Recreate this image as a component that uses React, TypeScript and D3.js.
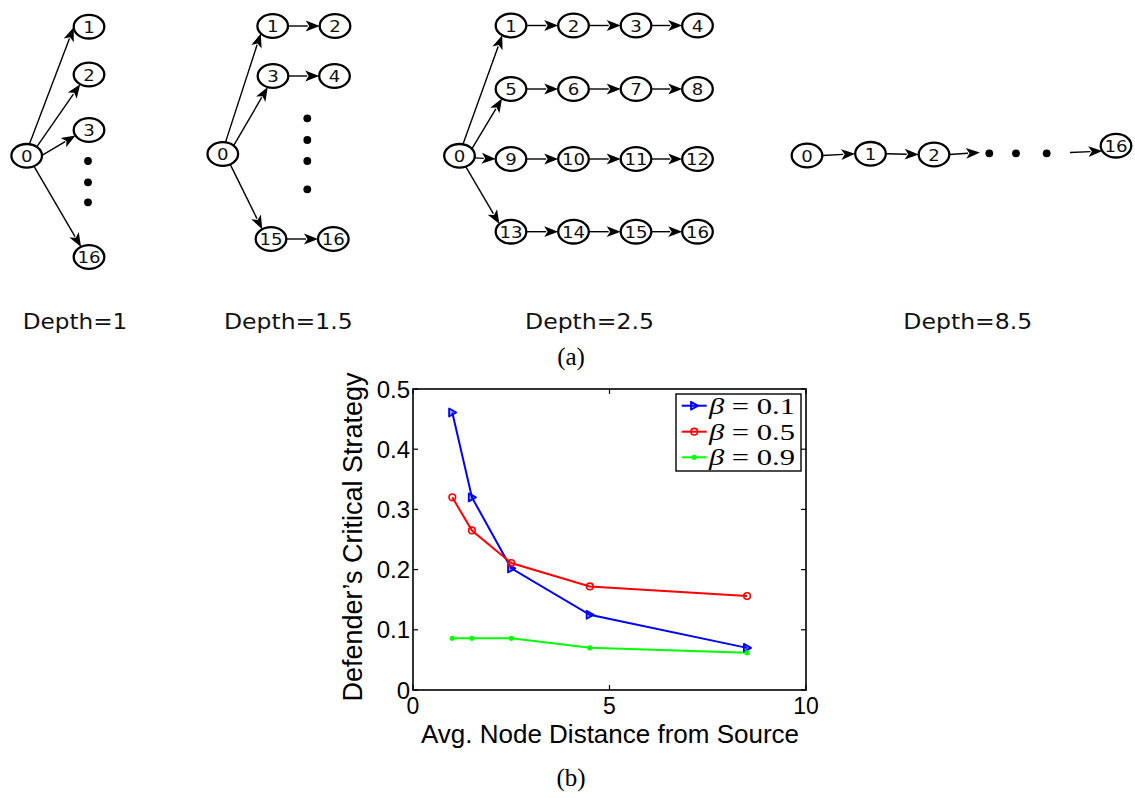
import React from 'react';
import * as d3 from 'd3';

// ---------------- Chart (b) data ----------------
const xValues = [1, 1.5, 2.5, 4.5, 8.5];
const beta01 = [0.461, 0.32, 0.202, 0.125, 0.07];
const beta05 = [0.32, 0.265, 0.211, 0.172, 0.156];
const beta09 = [0.086, 0.086, 0.086, 0.07, 0.062];
const seriesNames = ['0.1', '0.5', '0.9'];
const seriesColors = ['#0000ff', '#ff0000', '#00ff00'];
const seriesMarkers = ['triangle', 'circle', 'dot'];
const xTicks = [0, 5, 10];
const yTicks = [0, 0.1, 0.2, 0.3, 0.4, 0.5];
const xLabel = 'Avg. Node Distance from Source';
const yLabel = 'Defender\u2019s Critical Strategy';

// ---------------- Diagram (a) data ----------------
type DNode = { id: string; x: number; y: number };
type DEdge = { from?: string; fa?: number; fromPt?: [number, number]; to?: string; ta?: number; toPt?: [number, number] };

const graph1Nodes: DNode[] = [
  { id: '0', x: 26.7, y: 155.8 },
  { id: '1', x: 89, y: 26.7 },
  { id: '2', x: 89, y: 74.5 },
  { id: '3', x: 89, y: 130 },
  { id: '16', x: 89, y: 257 },
];
const graph1Dots: [number, number][] = [[88, 161], [88, 182.3], [88, 202.3]];
const graph1Edges: DEdge[] = [
  { from: '0', fa: 80, to: '1', ta: 183 },
  { from: '0', fa: 49, to: '2', ta: 235 },
  { from: '0', fa: 2, to: '3', ta: 208 },
  { from: '0', fa: 298, to: '16', ta: 121 },
];

const graph2Nodes: DNode[] = [
  { id: '0', x: 222.8, y: 154 },
  { id: '1', x: 272.7, y: 26 },
  { id: '2', x: 335, y: 26 },
  { id: '3', x: 273, y: 76 },
  { id: '4', x: 334.5, y: 76 },
  { id: '15', x: 271, y: 239 },
  { id: '16', x: 333.3, y: 239 },
];
const graph2Dots: [number, number][] = [[307.3, 118.3], [307.3, 140], [307.3, 161], [307.3, 189.3]];
const graph2Edges: DEdge[] = [
  { from: '0', fa: 80, to: '1', ta: 219 },
  { from: '0', fa: 45, to: '3', ta: 250 },
  { from: '0', fa: 299, to: '15', ta: 125 },
  { from: '1', fa: 0, to: '2', ta: 180 },
  { from: '3', fa: 0, to: '4', ta: 180 },
  { from: '15', fa: 0, to: '16', ta: 180 },
];

const g3Cols = [511, 573.5, 636, 697.5];
const g3Rows = [25.5, 89, 159, 231.7];
const graph3Nodes: DNode[] = [
  { id: '0', x: 459.5, y: 155.8 },
  ...g3Rows.flatMap((ry, r) => g3Cols.map((cx, c) => ({ id: String(r * 4 + c + 1), x: cx, y: ry }))),
];
const graph3Edges: DEdge[] = [
  { from: '0', fa: 77, to: '1', ta: 235 },
  { from: '0', fa: 36, to: '5', ta: 234 },
  { from: '0', fa: 350, to: '9', ta: 180 },
  { from: '0', fa: 294, to: '13', ta: 139 },
  ...[0, 1, 2, 3].flatMap((r) =>
    [1, 2, 3].map((c) => ({ from: String(r * 4 + c), fa: 0, to: String(r * 4 + c + 1), ta: 180 }))
  ),
];

const graph4Nodes: DNode[] = [
  { id: '0', x: 807, y: 155.5 },
  { id: '1', x: 870.5, y: 153.8 },
  { id: '2', x: 934, y: 154.5 },
  { id: '16', x: 1116, y: 145.7 },
];
const graph4Dots: [number, number][] = [[989.3, 153.3], [1016, 153.3], [1046.7, 153.3]];
const graph4Edges: DEdge[] = [
  { from: '0', fa: 0, to: '1', ta: 180 },
  { from: '1', fa: 0, to: '2', ta: 180 },
  { from: '2', fa: 0, toPt: [980, 152.5] },
  { fromPt: [1070, 152.5], to: '16', ta: 207 },
];

const depthLabels = ['Depth=1', 'Depth=1.5', 'Depth=2.5', 'Depth=8.5'];
const depthLabelX = [22.7, 224, 525, 903.3];
const depthLabelW = [104.6, 128.7, 129, 129];

const RX = 15.3;
const RY = 11.8;

function portPoint(n: DNode, deg: number): [number, number] {
  const a = (deg * Math.PI) / 180;
  return [n.x + RX * Math.cos(a), n.y - RY * Math.sin(a)];
}

function Graph({ nodes, edges, dots }: { nodes: DNode[]; edges: DEdge[]; dots: [number, number][] }) {
  const byId = new Map(nodes.map((n) => [n.id, n]));
  const AL = 14;
  const AW = 5.4;
  return (
    <g>
      {edges.map((e, i) => {
        const p0 = e.fromPt ? e.fromPt : portPoint(byId.get(e.from!)!, e.fa!);
        const p1 = e.toPt ? e.toPt : portPoint(byId.get(e.to!)!, e.ta!);
        const dx = p1[0] - p0[0];
        const dy = p1[1] - p0[1];
        const len = Math.hypot(dx, dy);
        const ux = dx / len;
        const uy = dy / len;
        const bx = p1[0] - ux * AL;
        const by = p1[1] - uy * AL;
        const px = -uy;
        const py = ux;
        return (
          <g key={i}>
            <line x1={p0[0]} y1={p0[1]} x2={bx + ux * 2} y2={by + uy * 2} stroke="#000" strokeWidth={1.4} />
            <polygon
              points={`${p1[0]},${p1[1]} ${bx + px * AW},${by + py * AW} ${bx + ux * 3.5},${by + uy * 3.5} ${bx - px * AW},${by - py * AW}`}
              fill="#000"
            />
          </g>
        );
      })}
      {nodes.map((n) => (
        <g key={n.id}>
          <ellipse cx={n.x} cy={n.y} rx={RX} ry={RY} fill="#fff" stroke="#000" strokeWidth={2.3} />
          <text
            transform={`translate(${n.x},${n.y + 6}) scale(1.1,1)`}
            textAnchor="middle"
            fontFamily="DejaVu Sans, Verdana, sans-serif"
            fontSize={16.5}
            fill="#111"
          >
            {n.id}
          </text>
        </g>
      ))}
      {dots.map((d, i) => (
        <circle key={i} cx={d[0]} cy={d[1]} r={3.9} fill="#000" />
      ))}
    </g>
  );
}

function Marker({ type, x, y, color }: { type: string; x: number; y: number; color: string }) {
  if (type === 'triangle') {
    const s = 4;
    return (
      <polygon
        points={`${x + s},${y} ${x - s * 0.8},${y - s} ${x - s * 0.8},${y + s}`}
        fill={color}
        fillOpacity={0.35}
        stroke={color}
        strokeWidth={1.8}
        strokeLinejoin="round"
      />
    );
  }
  if (type === 'circle') {
    return <circle cx={x} cy={y} r={3.3} fill="none" stroke={color} strokeWidth={1.6} />;
  }
  return <circle cx={x} cy={y} r={2.6} fill={color} />;
}

export default function App() {
  const x = d3.scaleLinear().domain([0, 10]).range([413, 806]);
  const y = d3.scaleLinear().domain([0, 0.5]).range([690, 389]);
  const series = [beta01, beta05, beta09];
  const line = d3
    .line<number>()
    .x((_, i) => x(xValues[i]))
    .y((d) => y(d));

  const [x0, x1] = x.range();
  const [y0, y1] = y.range();
  const tickLen = 5;
  const legendRows = [405.7, 431.7, 457.3];

  return (
    <svg
      width={1135}
      height={798}
      style={{ position: 'absolute', left: 0, top: 0, background: '#fff' }}
      xmlns="http://www.w3.org/2000/svg"
    >
      <rect x={0} y={0} width={1135} height={798} fill="#fff" />
      {/* Panel (a) */}
      <Graph nodes={graph1Nodes} edges={graph1Edges} dots={graph1Dots} />
      <Graph nodes={graph2Nodes} edges={graph2Edges} dots={graph2Dots} />
      <Graph nodes={graph3Nodes} edges={graph3Edges} dots={[]} />
      <Graph nodes={graph4Nodes} edges={graph4Edges} dots={graph4Dots} />
      {depthLabels.map((t, i) => (
        <text
          key={t}
          x={depthLabelX[i]}
          y={329.3}
          fontFamily="DejaVu Sans, Verdana, sans-serif"
          fontSize={21}
          textLength={depthLabelW[i]}
          lengthAdjust="spacingAndGlyphs"
          fill="#111"
        >
          {t}
        </text>
      ))}
      <text x={571} y={365} textAnchor="middle" fontFamily="Liberation Serif, serif" fontSize={25} fill="#000">
        (a)
      </text>

      {/* Panel (b) */}
      <g>
        {series.map((s, si) => (
          <path key={si} d={line(s) || ''} fill="none" stroke={seriesColors[si]} strokeWidth={2} />
        ))}
        {series.map((s, si) =>
          s.map((v, i) => (
            <Marker key={`${si}-${i}`} type={seriesMarkers[si]} x={x(xValues[i])} y={y(v)} color={seriesColors[si]} />
          ))
        )}
        {/* axes box */}
        <rect x={x0} y={y1} width={x1 - x0} height={y0 - y1} fill="none" stroke="#000" strokeWidth={1.6} />
        {yTicks.map((t) => (
          <g key={`y${t}`}>
            <line x1={x0} x2={x0 + tickLen} y1={y(t)} y2={y(t)} stroke="#000" strokeWidth={1.2} />
            <line x1={x1} x2={x1 - tickLen} y1={y(t)} y2={y(t)} stroke="#000" strokeWidth={1.2} />
            <text
              x={x0 - 3}
              y={y(t)}
              dy="0.36em"
              textAnchor="end"
              fontFamily="Liberation Sans, Arial, sans-serif"
              fontSize={24}
              fill="#000"
            >
              {d3.format('~g')(t)}
            </text>
          </g>
        ))}
        {xTicks.map((t) => (
          <g key={`x${t}`}>
            <line x1={x(t)} x2={x(t)} y1={y0} y2={y0 - tickLen} stroke="#000" strokeWidth={1.2} />
            <line x1={x(t)} x2={x(t)} y1={y1} y2={y1 + tickLen} stroke="#000" strokeWidth={1.2} />
            <text
              x={x(t)}
              y={714}
              textAnchor="middle"
              fontFamily="Liberation Sans, Arial, sans-serif"
              fontSize={23}
              fill="#000"
            >
              {t}
            </text>
          </g>
        ))}
        <text
          x={610}
          y={743}
          textAnchor="middle"
          fontFamily="Liberation Sans, Arial, sans-serif"
          fontSize={26}
          fill="#000"
        >
          {xLabel}
        </text>
        <text
          transform="translate(362,537) rotate(-90)"
          textAnchor="middle"
          fontFamily="Liberation Sans, Arial, sans-serif"
          fontSize={27}
          fill="#000"
        >
          {yLabel}
        </text>

        {/* legend */}
        <rect x={676} y={394} width={125} height={77} fill="#fff" stroke="#000" strokeWidth={1.4} />
        {seriesNames.map((nm, i) => (
          <g key={nm}>
            <line x1={681.7} x2={706.7} y1={legendRows[i]} y2={legendRows[i]} stroke={seriesColors[i]} strokeWidth={2} />
            <Marker type={seriesMarkers[i]} x={694.2} y={legendRows[i]} color={seriesColors[i]} />
            <text
              x={709}
              y={legendRows[i] + 8}
              fontFamily="Liberation Serif, DejaVu Serif, serif"
              fontSize={22.5}
              textLength={86}
              lengthAdjust="spacingAndGlyphs"
              fill="#000"
            >
              <tspan fontStyle="italic">β</tspan>
              <tspan> = </tspan>
              <tspan>{nm}</tspan>
            </text>
          </g>
        ))}
      </g>
      <text x={571} y={786} textAnchor="middle" fontFamily="Liberation Serif, serif" fontSize={25} fill="#000">
        (b)
      </text>
    </svg>
  );
}
